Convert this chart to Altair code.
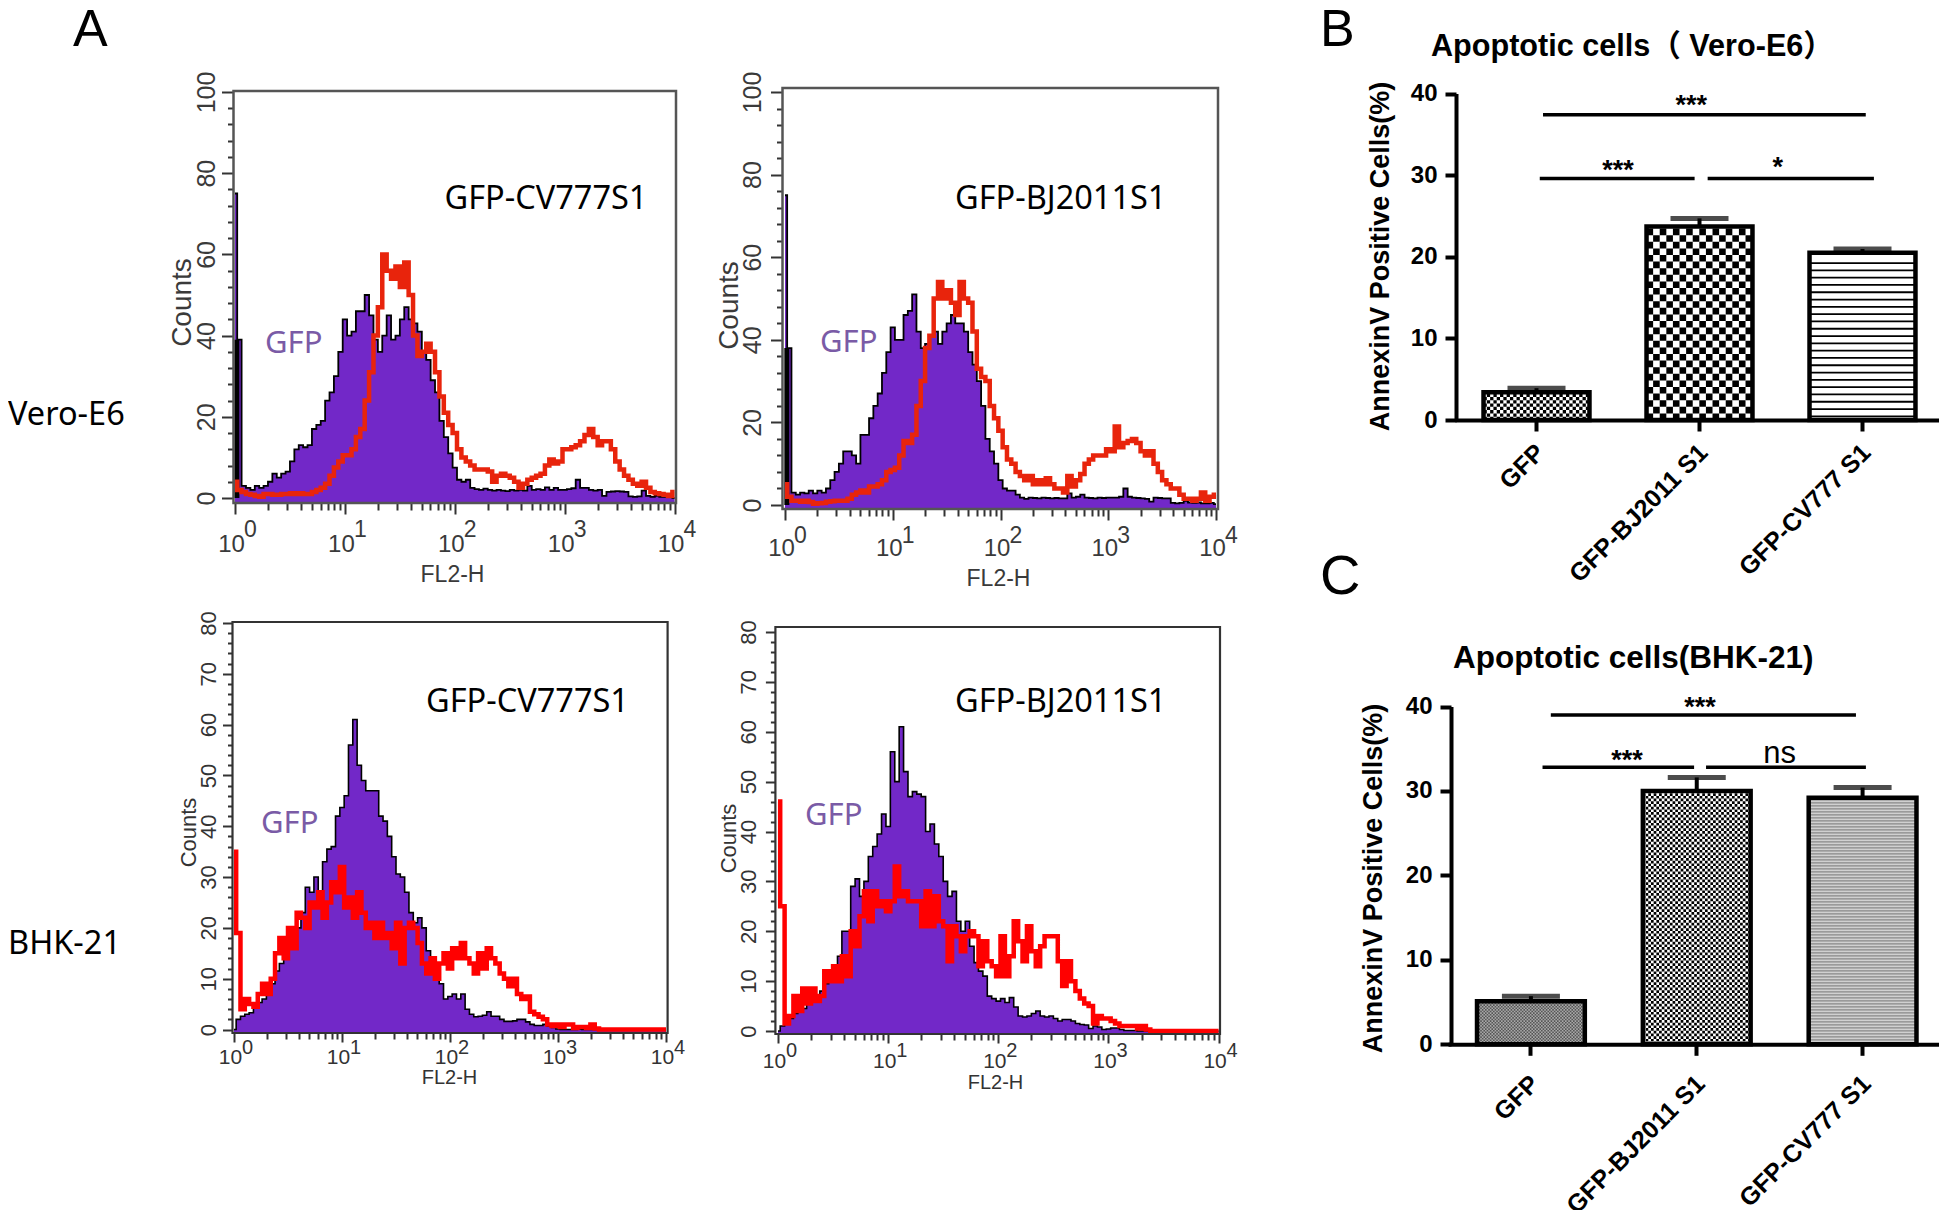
import altair as alt
import pandas as pd

W, H = 1931, 1202
SANS = "Liberation Sans"
CAL = "Noto Sans"

BINS = [round(i * 0.04, 2) for i in range(101)]

P1_GFP = [75,39,3,2.5,2,3,2.5,3,4,6,
          5,6,6.5,9,12,13,12.5,13,17,18,
          19,24,26,30,36,44,40,41,46,46,
          50,45,39,36,40,45,39,40,44,47,
          44,43,41,36,34,29,26,19,15,11,
          7.5,4.5,4,4.5,2.5,2.2,2,2.3,2,1.8,
          2,1.8,1.7,2,1.8,2,1.8,3,2,2.2,
          2,2.6,2,2.5,2,2,2.2,2.4,4.5,2.5,
          2.5,2,1.8,2,.5,1.5,1.6,1.7,1.6,1.5,
          .4,.3,.4,1.8,.5,.3,.5,.3,.3,.2,0]
P1_RED = [4,2,1.5,1,.8,.5,.3,1,1,.8,
          .8,1,1,1.2,1,1.2,1,1,1.5,2,
          2.5,3.5,5.5,7.5,9,10.5,10.5,12,15,17,
          24,31,40,47,60,56,54,57,52,58,
          50,40,35,36,38,36,31,25,21,18,
          16,12,10,9,8,7,7,7,6.5,4,
          5.5,6,5.5,5,4,2.5,3.5,4.5,5,5.5,
          6,8,9.5,8.5,9,12,12,12.5,13,14,
          15.5,17,15,13,14,14,12,9,7,5.5,
          4.5,3.5,3,4,2.5,1.5,1.2,1,.8,.5,1.5]
P2_GFP = [75,38,3,2.5,3,2.8,3.5,2.8,3.5,3,
          4,6,8,10,13,13,12,10,17,17,
          21,24,27,32,37,43,40,40,46,47,
          51,42,38,39,41,42,39,42,44,46,
          44,44,42,37,34,30,24,16,13,10,
          6,4,3.5,3.5,2.5,1.8,1.5,1.8,1.7,1.6,
          1.8,1.7,1.6,1.7,1.6,1.6,2.8,1.8,2,2.5,
          1.8,1.7,1.6,1.8,1.7,1.8,1.8,1.8,2,4,
          2,1.8,1.7,1.6,1.5,.8,1.8,1.7,1.6,1.6,
          .5,.4,.5,1,.6,.5,.6,.4,.4,.5,.2]
P2_RED = [5,2,1,1,.8,1,.7,.3,.4,.5,
          .8,.9,1,1,1,1.5,2.5,3,3.5,3,
          4.5,4.5,5,6,8,8.5,9,12,15.5,15,
          17,24,30,38,41,50,54,50,52,49,
          46,54,50,49,42,33,31,30,24,21,
          18,14,11,10,8,7,6,7,5,6,
          5,6.5,5,4,4,3,7,4.5,6,7.5,
          10,11,12,12,12,13.5,13,19,14,15,
          15.5,16,15,13,12,13,10,8,6,5,
          4,4,2.5,1.5,1.5,1,1.5,3,1,2,2.5]
P3_GFP = [0,2,2.6,3,3.3,4.6,5.3,6,7.5,9,
          11.5,13,15,16,19,20,23,28,27,30,
          27,33,35.5,36,42,43.7,46,56,61,52,
          49,47,47,47,42,41,38,34,30.6,30,
          27,23,21,22,20,15.5,12,10,9,6,
          6.5,7,6,7,4,3,2.5,2.6,2.8,3.5,
          2.6,2.6,2,1.6,1.6,1.7,2,2,1.5,1,
          .8,.8,1,.7,.4,.1,0,0,0,0,
          .1,0,0,0,0,0,0,0,0,0,
          0,0,0,0,0,0,0,0,0,0,0]
P3_RED = [35,19,4,6,5,4.5,7,9,7,10,
          15,18,14,20,16,23,22,20,25,24,
          27,22,25,29,27,32,24,26,22,27,
          23,20,21,18,21,18,19,16,21,13,
          20,21,20,17,13,11,14,10,13,15,
          12,16,14,17,14,13,11,15,12,16,
          14,13,11,10,8.5,10,7,6,6.5,3.5,
          3,2.5,2,1,.7,1,.5,1,1,.3,
          .5,.5,.3,1,.2,0,0,0,0,0,
          0,0,0,0,0,0,0,0,0,0,0]
P4_GFP = [0,1,2,2.5,3.5,4,4.5,5.5,6,7,
          8,9.5,11,13,15,20,20,29,30.5,27,
          30,35,37,39.5,43.5,41,56,50,61,52,
          47,48,47.5,47,40,41.5,37.5,35,30,27,
          28,22,20,22,17,13.7,12,11,7,6.5,
          6,6.5,5.7,6.7,4.8,3,2.8,3,3.5,4,
          3,2.8,3,2.5,2,2.3,2.3,2,1.5,1.3,
          1.2,.5,1,.8,.3,.4,.6,.6,.3,.1,
          .1,.1,0,0,0,0,0,0,0,0,
          0,0,0,0,0,0,0,0,0,0,0]
P4_RED = [46,25,1.5,3,7,4,8.5,5.5,8.5,6,
          7,12,10,13,10,15,11,20,17,23,
          28,22,28,25,26,24,26,33,27,28,
          26,26,26,21,28,21,27,22,21,14,
          21,19,16,19,20,19,13,18,14,13,
          11,19,11,15,22,18,14,21,16,13,
          17,19,19,19,14,9,14,10,8,6.5,
          5.5,5,1.5,3,2.5,2.5,2,1.5,1,1,
          1,1,.5,1,.3,0,0,0,0,0,
          0,0,0,0,0,0,0,0,0,0,0]

DECADES = [1, 10, 100, 1000, 10000]
EXPONENTS = ["0", "1", "2", "3", "4"]
X_TICKS = [m * d for d in [1, 10, 100, 1000] for m in range(1, 10)] + [10000]

CATEGORIES = ["GFP", "GFP-BJ2011 S1", "GFP-CV777 S1"]
B_MEAN = [3.4, 23.7, 20.5]
B_TOP = [3.9, 24.7, 20.95]
C_MEAN = [5.1, 30.0, 29.2]
C_TOP = [5.7, 31.6, 30.4]


def cx(v):
    return v - 8


def cy(v):
    return v - 8


def txt(s, x, y, size, color="black", font=CAL, weight="normal", angle=0, align="left", baseline="alphabetic"):
    return alt.Chart(pd.DataFrame({"t": [s]})).mark_text(
        font=font, fontSize=size, color=color, fontWeight=weight, angle=angle, align=align, baseline=baseline
    ).encode(text="t:N", x=alt.value(cx(x)), y=alt.value(cy(y)))


def histogram(p):
    xs = alt.Scale(type="log", domain=[1, 10000], range=[cx(p["x0"]), cx(p["x4"])])
    ys = alt.Scale(domain=[0, p["ymax"]], range=[cy(p["y0"]), cy(p["ytop"])])
    fx = alt.Scale(domain=[0, 1], range=[cx(p["L"]), cx(p["R"])])
    fy = alt.Scale(domain=[0, 1], range=[cy(p["B"]), cy(p["T"])])
    floor_val = -(p["B"] - p["y0"]) / (p["y0"] - p["ytop"]) * p["ymax"]
    df = pd.DataFrame({
        "fl2": [10 ** d for d in BINS],
        "gfp": p["gfp"],
        "red": p["red"],
        "floor": [floor_val] * len(BINS),
    })
    layers = []
    is_major_x = "abs(log(datum.value)/LN10 - round(log(datum.value)/LN10)) < 0.001"
    x_axis = alt.Axis(
        orient="bottom", offset=cy(p["B"]) - H, values=X_TICKS, domain=False, grid=False,
        tickColor="#333333", tickWidth=p["tw"], labelColor=p["labc"], labelFont=SANS, labelFlush=False,
        labelFontSize=p["xlab"], labelOverlap=False, labelPadding=p["xpad"], labelOffset=-p["xoff"],
        tickSize={"condition": {"test": is_major_x, "value": p["xmaj"]}, "value": p["xmin"]},
        labelExpr=f"({is_major_x}) ? '10' : ''",
        title="FL2-H", titleFont=SANS, titleFontWeight="normal", titleFontSize=p["ftitle"],
        titleColor=p["labc"], titleX=cx(p["ftx"]), titleY=p["fty"] - p["B"], titleBaseline="alphabetic",
    )
    is_major_y = f"datum.value % {p['major']} === 0"
    y_axis = alt.Axis(
        orient="left", offset=-cx(p["L"]), values=p["yticks"], domain=False, grid=False,
        tickColor="#333333", tickWidth=p["tw"], labelColor=p["labc"], labelFont=SANS, labelFlush=False,
        labelFontSize=p["ylab"], labelAngle=270, labelAlign="center", labelBaseline="bottom",
        labelOverlap=False, labelPadding=p["ypad"], labelFontWeight=p["yweight"],
        tickSize={"condition": {"test": is_major_y, "value": p["ymaj"]}, "value": p["ymin"]},
        labelExpr=f"datum.value % {p['major']} === 0 ? datum.label : ''",
        title="Counts", titleFont=SANS, titleFontWeight=p["yweight"], titleFontSize=p["ctitle"], titleColor=p["labc"],
        titleAngle=270, titleX=p["ctx"] - p["L"], titleY=cy(p["cty"]), titleBaseline="alphabetic",
    )
    layers.append(
        alt.Chart(df).mark_area(interpolate="step", color="#7228C8").encode(
            x=alt.X("fl2:Q", scale=xs, axis=x_axis),
            y=alt.Y("gfp:Q", scale=ys, axis=y_axis),
            y2="floor:Q",
        )
    )
    layers.append(
        alt.Chart(df).mark_line(interpolate="step", color="black", strokeWidth=p["bw"]).encode(
            x=alt.X("fl2:Q", scale=xs, axis=None), y=alt.Y("gfp:Q", scale=ys, axis=None)
        )
    )
    if p["spike"]:
        sp = pd.DataFrame({"fl2": [1.04], "base": [0], "top": [p["spike"]]})
        layers.append(
            alt.Chart(sp).mark_rule(color="black", strokeWidth=5).encode(
                x=alt.X("fl2:Q", scale=xs, axis=None), y=alt.Y("base:Q", scale=ys, axis=None), y2="top:Q"
            )
        )
    layers.append(
        alt.Chart(df).mark_line(interpolate="step", color=p["redc"], strokeWidth=p["rw"]).encode(
            x=alt.X("fl2:Q", scale=xs, axis=None), y=alt.Y("red:Q", scale=ys, axis=None)
        )
    )
    frame = pd.DataFrame({"a": [0], "b": [1]})
    layers.append(
        alt.Chart(frame).mark_rect(fill=None, stroke=p["fc"], strokeWidth=p["fw"]).encode(
            x=alt.X("a:Q", scale=fx, axis=None), x2="b:Q",
            y=alt.Y("a:Q", scale=fy, axis=None), y2="b:Q",
        )
    )
    exp = pd.DataFrame({"fl2": DECADES, "e": EXPONENTS})
    layers.append(
        alt.Chart(exp).mark_text(
            font=SANS, fontSize=p["xlab"] - 1, color=p["labc"], align="left", baseline="alphabetic", dx=p["edx"]
        ).encode(x=alt.X("fl2:Q", scale=xs, axis=None), y=alt.value(cy(p["ey"])), text="e:N")
    )
    layers.append(txt(p["name"], p["nx"], p["ny"], 32.5))
    layers.append(txt("GFP", p["gx"], p["gy"], 31, color="#7A5BA6"))
    return layers


def bars(p):
    ys = alt.Scale(domain=[0, 40], range=[cy(p["y0"]), cy(p["y40"])])
    band = alt.Scale(type="band", domain=CATEGORIES, range=[cx(p["a"]), cx(p["b"])],
                     paddingInner=0.35, paddingOuter=0.175)
    pos = alt.Scale(domain=[-0.5, 2.5], range=[cx(p["a"]), cx(p["b"])])
    half = 0.325
    px_per = (p["y0"] - p["y40"]) / 40
    layers = []
    df = pd.DataFrame({"cat": CATEGORIES, "mean": p["mean"], "top": p["top"], "idx": [0, 1, 2]})
    axis_x = alt.Axis(
        orient="bottom", offset=cy(p["y0"]) - H, domainWidth=4, domainColor="black", tickColor="black", tickWidth=4,
        tickSize=p["ts"], labelAngle=-45, labelAlign="right", labelBaseline="middle", labelFont=SANS,
        labelFontWeight="bold", labelFontSize=25, labelColor="black", labelPadding=p["lp"], labelOffset=4,
        labelLimit=400, title=None, grid=False,
    )
    axis_y = alt.Axis(
        orient="left", offset=-cx(p["axis"]), domainWidth=4, domainColor="black", tickColor="black", tickWidth=4,
        tickSize=p["ts"], values=[0, 10, 20, 30, 40], labelFont=SANS, labelFontWeight="bold", labelFontSize=24,
        labelColor="black", labelPadding=8, grid=False, labelFlush=False,
        title="AnnexinV Positive Cells(%)", titleFont=SANS, titleFontWeight="bold", titleFontSize=27,
        titleColor="black", titleAngle=270, titleBaseline="middle", titleX=p["tx"] - p["axis"], titleY=cy(p["ty"]),
    )
    layers.append(
        alt.Chart(df).mark_bar(fill="white", stroke=None).encode(
            x=alt.X("cat:N", scale=band, axis=axis_x, sort=CATEGORIES), y=alt.Y("mean:Q", scale=ys, axis=axis_y)
        )
    )
    for i, pat in enumerate(p["patterns"]):
        top = p["mean"][i]
        if pat["base"]:
            base_df = pd.DataFrame({"x": [i - half], "x2": [i + half], "y": [0], "y2": [top]})
            layers.append(
                alt.Chart(base_df).mark_rect(fill=pat["base"]).encode(
                    x=alt.X("x:Q", scale=pos, axis=None), x2="x2:Q",
                    y=alt.Y("y:Q", scale=ys, axis=None), y2="y2:Q",
                )
            )
        c = pat["cell"]
        step = pat["step"] / px_per
        n = int(top / step)
        rows = [round(k * step + step / 2, 4) for k in range(n)]
        for even in ([0, 1] if pat["kind"] == "check" else [0]):
            sel = rows[even::2] if pat["kind"] == "check" else rows
            rdf = pd.DataFrame({"x": [i - half] * len(sel), "x2": [i + half] * len(sel), "y": sel})
            kw = {"strokeWidth": pat["lw"], "color": pat["color"]}
            if pat["kind"] == "check":
                kw.update(strokeDash=[c, c], strokeDashOffset=c * even)
            layers.append(
                alt.Chart(rdf).mark_rule(**kw).encode(
                    x=alt.X("x:Q", scale=pos, axis=None), x2="x2:Q", y=alt.Y("y:Q", scale=ys, axis=None)
                )
            )
    layers.append(
        alt.Chart(df).mark_rule(color="black", strokeWidth=4).encode(
            x=alt.X("cat:N", scale=band, axis=None, sort=CATEGORIES),
            y=alt.Y("mean:Q", scale=ys, axis=None), y2="top:Q",
        )
    )
    layers.append(
        alt.Chart(df).mark_tick(color="black", size=58, thickness=5).encode(
            x=alt.X("cat:N", scale=band, axis=None, sort=CATEGORIES),
            y=alt.Y("top:Q", scale=ys, axis=None),
        )
    )
    layers.append(
        alt.Chart(df).mark_bar(fill=None, stroke="black", strokeWidth=4.5).encode(
            x=alt.X("cat:N", scale=band, axis=None, sort=CATEGORIES),
            y=alt.Y("mean:Q", scale=ys, axis=None),
        )
    )
    sig = pd.DataFrame({"x": p["sx"], "x2": p["sx2"], "y": p["sy"]})
    layers.append(
        alt.Chart(sig).mark_rule(color="black", strokeWidth=3.5).encode(
            x=alt.X("x:Q", scale=pos, axis=None), x2="x2:Q", y=alt.Y("y:Q", scale=ys, axis=None)
        )
    )
    lab = pd.DataFrame({"x": p["lx"], "y": p["ly"], "t": p["lt"]})
    layers.append(
        alt.Chart(lab[lab.t != "ns"]).mark_text(font=SANS, fontWeight="bold", fontSize=27, color="black", baseline="middle").encode(
            x=alt.X("x:Q", scale=pos, axis=None), y=alt.Y("y:Q", scale=ys, axis=None), text="t:N"
        )
    )
    if (lab.t == "ns").any():
        layers.append(
            alt.Chart(lab[lab.t == "ns"]).mark_text(font=SANS, fontSize=31, color="black", baseline="middle").encode(
                x=alt.X("x:Q", scale=pos, axis=None), y=alt.Y("y:Q", scale=ys, axis=None), text="t:N"
            )
        )
    layers.append(txt(p["title"], p["tix"], p["tiy"], p["tis"], font=SANS + ", Noto Sans CJK SC", weight="bold"))
    return layers


top_common = dict(
    ymax=100, major=20, yticks=list(range(0, 101, 4)), tw=2, labc="#3a3a3a", xlab=24, xoff=4, xmaj=11, xmin=7,
    ylab=25, yweight="normal", ymaj=12, ymin=6, ftitle=23, ctitle=28, bw=1.8, rw=4.5, redc="#E8240C",
    fc="#555555", fw=2.5, edx=9,
)
low_common = dict(
    ymax=80, major=10, yticks=list(range(0, 81, 2)), tw=2, labc="#333333", xlab=21, xoff=4, xmaj=9, xmin=6,
    ylab=22, yweight="normal", ymaj=10, ymin=5, ftitle=20, ctitle=22, bw=1.6, rw=4.5, redc="#FF0000",
    fc="#333333", fw=2.2, edx=8, spike=0,
)
panels = [
    dict(top_common, x0=235, x4=674.6, y0=498, ytop=92, L=233.5, R=676, T=91, B=503, gfp=P1_GFP, red=P1_RED, spike=39,
         xpad=18, ypad=2, name="GFP-CV777S1", nx=444.5, ny=209, gx=265, gy=353, ftx=452, fty=581, ctx=190, cty=302, ey=537),
    dict(top_common, x0=785, x4=1216, y0=505, ytop=92, L=782.5, R=1218, T=88, B=509, gfp=P2_GFP, red=P2_RED, spike=38,
         xpad=16.5, ypad=5, name="GFP-BJ2011S1", nx=955, ny=209, gx=820, gy=352, ftx=998, fty=585, ctx=737, cty=305, ey=542.5),
    dict(low_common, x0=234, x4=666, y0=1029.5, ytop=623, L=232.5, R=667.6, T=622, B=1033, gfp=P3_GFP, red=P3_RED,
         xpad=4.7, ypad=2, name="GFP-CV777S1", nx=426, ny=712, gx=261, gy=833, ftx=449, fty=1083, ctx=195, cty=832, ey=1054),
    dict(low_common, x0=778, x4=1218.6, y0=1031, ytop=632, L=775.4, R=1220, T=627, B=1034, gfp=P4_GFP, red=P4_RED,
         xpad=7.4, ypad=5, name="GFP-BJ2011S1", nx=955, ny=712, gx=805, gy=825, ftx=995, fty=1088, ctx=735, cty=838, ey=1056.7),
]

bar_panels = [
    dict(y0=420, y40=93.5, a=1455, b=1944, axis=1456, mean=B_MEAN, top=B_TOP, ts=11, lp=17, tx=1380, ty=256,
         title="Apoptotic cells（ Vero-E6）", tix=1431, tiy=56, tis=30.6,
         patterns=[
             dict(kind="check", cell=3.3, step=3.3, lw=3.3, color="black", base=None),
             dict(kind="check", cell=6.6, step=6.6, lw=6.6, color="black", base=None),
             dict(kind="stripe", cell=0, step=7.3, lw=1.8, color="black", base=None),
         ],
         sx=[0.04, 0.02, 1.05], sx2=[2.02, 0.97, 2.07], sy=[37.4, 29.6, 29.6],
         lx=[0.95, 0.5, 1.48], ly=[38.5, 30.45, 30.9], lt=["***", "***", "*"]),
    dict(y0=1044.3, y40=706.5, a=1448, b=1945.5, axis=1451, mean=C_MEAN, top=C_TOP, ts=11, lp=24, tx=1373, ty=878,
         title="Apoptotic cells(BHK-21)", tix=1453, tiy=668, tis=31.5,
         patterns=[
             dict(kind="check", cell=1.6, step=1.6, lw=1.6, color="#555555", base="#aaaaaa"),
             dict(kind="check", cell=2.7, step=2.7, lw=2.7, color="black", base="white"),
             dict(kind="stripe", cell=0, step=3, lw=1.3, color="#888888", base="#d0d0d0"),
         ],
         sx=[0.12, 0.07, 1.056], sx2=[1.96, 0.984, 2.02], sy=[39.0, 32.8, 32.8],
         lx=[1.02, 0.58, 1.50], ly=[39.8, 33.6, 34.35], lt=["***", "***", "ns"]),
]

layers = []
for p in panels:
    layers += histogram(p)
for p in bar_panels:
    layers += bars(p)

layers += [
    txt("A", 73, 46, 52, font=SANS),
    txt("B", 1320, 46, 52, font=SANS),
    txt("C", 1320, 594, 56, font=SANS),
    txt("Vero-E6", 8, 425, 32.5),
    txt("BHK-21", 8, 954, 32.5),
]

chart = (
    alt.layer(*layers)
    .resolve_scale(x="independent", y="independent")
    .properties(width=W, height=H, padding=0, autosize=alt.AutoSizeParams(type="none"), background="white")
    .configure_view(stroke=None)
)

chart.save("out.html", embed_options={"renderer": "svg", "actions": False})
